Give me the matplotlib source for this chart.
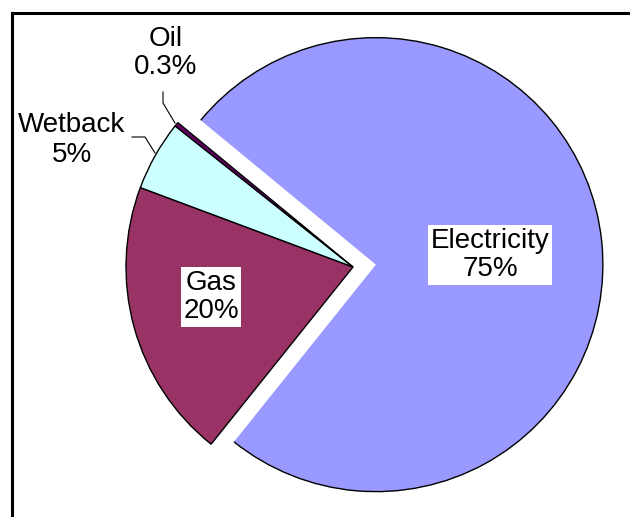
import matplotlib
matplotlib.use("Agg")
import matplotlib.pyplot as plt
from matplotlib.patches import Arc
from matplotlib.lines import Line2D

# data
labels = ["Electricity", "Gas", "Wetback", "Oil"]
values = [75, 20, 5, 0.3]
pct_text = ["75%", "20%", "5%", "0.3%"]
colors = ["#9999FF", "#993366", "#CCFFFF", "#660066"]
explode = [23, 0, 0, 0]   # matplotlib uses data units here

plt.rcParams['font.family'] = ['Liberation Sans', 'DejaVu Sans']

fig = plt.figure(figsize=(6.3, 5.17), dpi=100)
ax = fig.add_axes([0, 0, 1, 1])

wedges, _ = ax.pie(values, colors=colors, explode=explode, startangle=140.5,
                   counterclock=False, center=(353, 250), radius=227,
                   wedgeprops=dict(edgecolor='black', linewidth=1.0),
                   frame=True)
ax.set_xlim(0, 630)
ax.set_ylim(0, 517)
ax.axis('off')

# electricity: outline only on the arc
w = wedges[0]
w.set_linewidth(0)
ax.add_patch(Arc(w.center, 2 * w.r, 2 * w.r, theta1=w.theta1, theta2=w.theta2,
                 color='black', lw=1.0))

box = dict(boxstyle='square,pad=0.08', facecolor='white', edgecolor='none')
ax.text(490, 262, labels[0] + "\n" + pct_text[0], ha='center', va='center',
        fontsize=20, bbox=box, linespacing=1.15)
ax.text(211, 220, labels[1] + "\n" + pct_text[1], ha='center', va='center',
        fontsize=20, bbox=box, linespacing=1.15)
ax.text(72, 377, labels[2] + "\n" + pct_text[2], ha='center', va='center',
        fontsize=20, linespacing=1.15)
ax.text(166, 464, labels[3] + "\n" + pct_text[3], ha='center', va='center',
        fontsize=20, linespacing=1.15)

# leader lines
ax.plot([132, 145, 155], [380, 380, 364], color='black', lw=0.8)
ax.plot([163, 163, 175], [425, 414, 394], color='black', lw=0.8)

# border (left and top)
fig.add_artist(Line2D([12 / 630, 12 / 630], [0, 1 - 13 / 517], color='black',
                      lw=2.2, transform=fig.transFigure))
fig.add_artist(Line2D([12 / 630, 1], [1 - 13 / 517, 1 - 13 / 517], color='black',
                      lw=2.2, transform=fig.transFigure))

fig.savefig("out.png", dpi=100)
